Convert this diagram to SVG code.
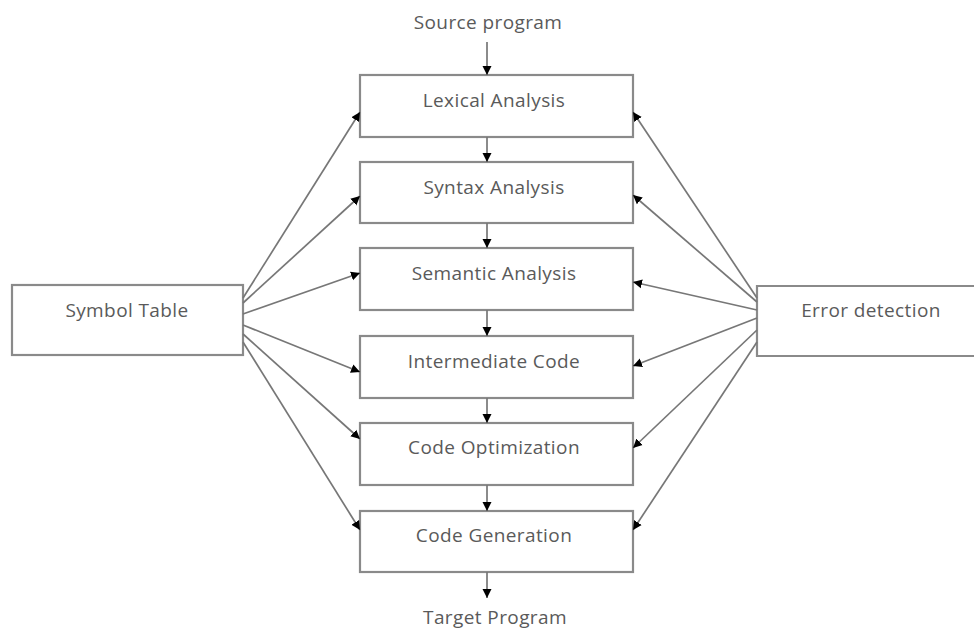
<svg xmlns="http://www.w3.org/2000/svg" width="974" height="633" viewBox="0 0 974 633">
<defs>
<marker id="ah" markerWidth="10" markerHeight="10" refX="9" refY="5" orient="auto" markerUnits="userSpaceOnUse">
<path d="M0,0.5 L9,5 L0,9.5 Z" fill="#000"/>
</marker>
<style>
.box{fill:#fff;stroke:#8a8a8a;stroke-width:2.2}
.lbl{font-family:"Open Sans","Liberation Sans",sans-serif;font-size:19px;letter-spacing:0.4px;fill:#5a5a5a;text-anchor:middle}
.c{stroke:#777;stroke-width:1.7;fill:none;marker-end:url(#ah)}
</style>
</defs>
<rect width="974" height="633" fill="#fff"/>
<text class="lbl" x="488" y="29">Source program</text>
<text class="lbl" x="495" y="624">Target Program</text>
<g id="lexical"><rect class="box" x="360" y="75" width="273" height="62"/><text class="lbl" x="494" y="107">Lexical Analysis</text></g>
<g id="syntax"><rect class="box" x="360" y="162" width="273" height="61"/><text class="lbl" x="494" y="194">Syntax Analysis</text></g>
<g id="semantic"><rect class="box" x="360" y="248" width="273" height="62"/><text class="lbl" x="494" y="280">Semantic Analysis</text></g>
<g id="intermediate"><rect class="box" x="360" y="336" width="273" height="62"/><text class="lbl" x="494" y="368">Intermediate Code</text></g>
<g id="optimization"><rect class="box" x="360" y="423" width="273" height="62"/><text class="lbl" x="494" y="454">Code Optimization</text></g>
<g id="generation"><rect class="box" x="360" y="511" width="273" height="61"/><text class="lbl" x="494" y="542">Code Generation</text></g>
<g id="symbol"><rect class="box" x="12" y="285" width="231" height="70"/><text class="lbl" x="127" y="317">Symbol Table</text></g>
<g id="error"><path class="box" d="M980,286 L757,286 L757,356 L980,356"/><text class="lbl" x="871" y="317">Error detection</text></g>
<g id="connectors">
<line class="c" x1="487" y1="42" x2="487" y2="75"/>
<line class="c" x1="487" y1="137" x2="487" y2="162"/>
<line class="c" x1="487" y1="223" x2="487" y2="248"/>
<line class="c" x1="487" y1="310" x2="487" y2="336"/>
<line class="c" x1="487" y1="398" x2="487" y2="423"/>
<line class="c" x1="487" y1="485" x2="487" y2="511"/>
<line class="c" x1="487" y1="572" x2="487" y2="598"/>
<line class="c" x1="243" y1="298" x2="360" y2="112"/>
<line class="c" x1="243" y1="303" x2="360" y2="196"/>
<line class="c" x1="243" y1="314" x2="360" y2="273"/>
<line class="c" x1="243" y1="325" x2="360" y2="372"/>
<line class="c" x1="243" y1="334" x2="360" y2="439"/>
<line class="c" x1="243" y1="342" x2="360" y2="530"/>
<line class="c" x1="757" y1="298" x2="633" y2="112"/>
<line class="c" x1="757" y1="302" x2="633" y2="195"/>
<line class="c" x1="757" y1="310" x2="633" y2="282"/>
<line class="c" x1="757" y1="318" x2="633" y2="366"/>
<line class="c" x1="757" y1="330" x2="633" y2="448"/>
<line class="c" x1="757" y1="342" x2="633" y2="530"/>
</g>
</svg>
